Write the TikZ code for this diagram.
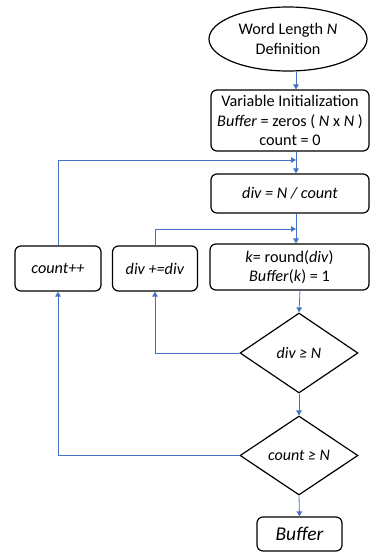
\documentclass[tikz,border=0pt]{standalone}
\usepackage{fontspec}
\setmainfont{Carlito}
\usetikzlibrary{shapes.geometric,arrows.meta,calc}
\begin{document}
\begin{tikzpicture}[x=1pt,y=-1pt,
  box/.style={draw=black,line width=1.2pt,rounded corners=6pt,align=center,inner sep=0pt,font=\fontsize{16.2}{19.2}\selectfont},
  dia/.style={draw=black,line width=1.2pt,diamond,inner sep=0pt,minimum width=118pt,minimum height=79pt,align=center,font=\fontsize{16}{19}\selectfont},
  arr/.style={draw={rgb,255:red,68;green,114;blue,196},line width=0.8pt,-{Triangle[length=5pt,width=5.5pt]}}]
\useasboundingbox (0,0) rectangle (370,552);
\coordinate (colA) at (296,0);
\coordinate (colB) at (300,0);
\node[draw=black,line width=1.2pt,ellipse,minimum width=158pt,minimum height=64pt,inner sep=0pt,align=center,font=\fontsize{16.2}{19.2}\selectfont] (start) at (288,39) {Word Length \textit{N}\\Definition};
\node[box,minimum width=158pt,minimum height=61pt] (init) at (290,120.5) {Variable Initialization\\\textit{Buffer} = zeros ( \textit{N} x \textit{N} )\\count = 0};
\node[box,minimum width=158pt,minimum height=39pt] (divbox) at (290,193.5) {\textit{div = N / count}};
\node[box,minimum width=159pt,minimum height=46pt] (kbox) at (289.5,267) {\textit{k}= round(\textit{div})\\\textit{Buffer}(\textit{k}) = 1};
\node[box,minimum width=86pt,minimum height=45pt] (countpp) at (58,268.5) {\textit{count++}};
\node[box,minimum width=85pt,minimum height=45pt] (divinc) at (155,268.5) {\textit{div +=div}};
\node[dia,minimum height=80pt] (d1) at (299,353) {\textit{div ≥ N}};
\node[dia] (d2) at (299,455.5) {\textit{count ≥ N}};
\node[box,minimum width=85pt,minimum height=34pt,font=\fontsize{19.5}{22}\selectfont] (buf) at (299.5,534) {\textit{Buffer}};
\coordinate (loopA) at (296,160);
\coordinate (loopB) at (296,229);
\draw[arr] (start.south -| colA) -- (init.north -| colA);
\draw[arr] (init.south -| colA) -- (divbox.north -| colA);
\draw[arr] (divbox.south -| colA) -- (kbox.north -| colA);
\draw[arr] (kbox.south -| colB) -- (d1.north);
\draw[arr] (d1.south) -- (d2.north);
\draw[arr] (d2.south) -- (buf.north);
\draw[arr] (d1.west) -| (divinc.south);
\draw[arr] (divinc.north) |- (loopB);
\draw[arr] (d2.west) -| (countpp.south);
\draw[arr] (countpp.north) |- (loopA);
\end{tikzpicture}
\end{document}
